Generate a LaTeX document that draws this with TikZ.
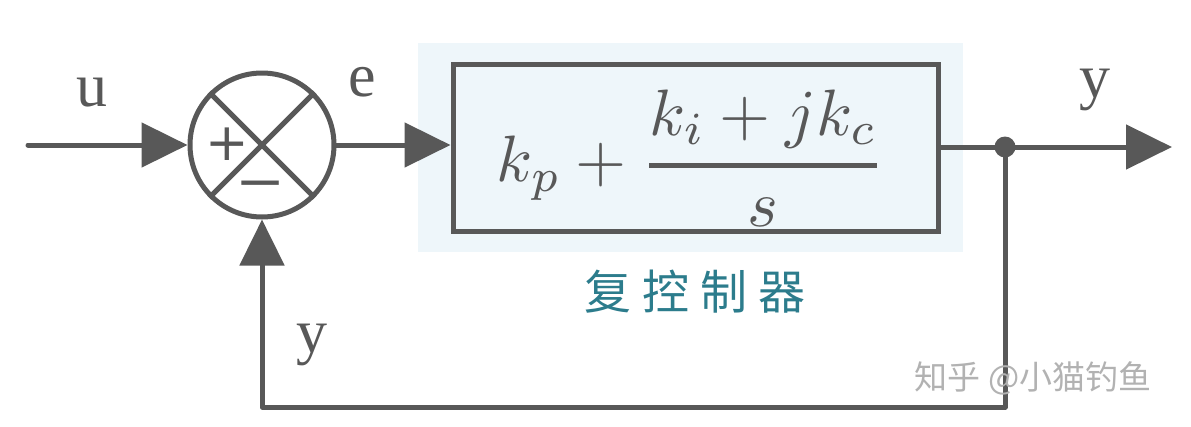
\documentclass[tikz,border=0pt]{standalone}
\usepackage{fontspec}
\usepackage{graphicx}
\usepackage{amsmath}
\usetikzlibrary{arrows.meta}
\newfontfamily\cjk{Noto Sans CJK SC}
\newfontfamily\serifl{Liberation Serif}
\newfontfamily\dejavu{DejaVu Sans}
\definecolor{linegray}{RGB}{88,88,88}
\definecolor{bgblue}{RGB}{238,246,250}
\definecolor{tealc}{RGB}{44,124,140}
\definecolor{wmgray}{RGB}{178,178,178}
\begin{document}
\begin{tikzpicture}[x=1pt,y=-1pt,
  wire/.style={draw=linegray,line width=5pt,line cap=round,line join=round},
  arr/.style={wire,-{Triangle[length=46pt,width=44pt]}},
  lbl/.style={text=linegray,font=\serifl\fontsize{62}{62}\selectfont,inner sep=0pt},
  sign/.style={text=linegray,font=\dejavu\fontsize{52}{52}\selectfont,inner sep=0pt}]
\useasboundingbox (0,0) rectangle (1191,426);
% background of controller
\node[fill=bgblue,minimum width=545pt,minimum height=209pt,inner sep=0pt,outer sep=0pt] (bg) at (690.5,147.5) {};
% controller box
\node[draw=linegray,line width=5pt,minimum width=485pt,minimum height=167pt,inner sep=0pt] (ctrl) at (695.5,147.5) {};
\node[text=linegray,inner sep=0pt] (eq) at (691,158) {\resizebox{388pt}{!}{$\displaystyle k_p+\genfrac{}{}{0.75pt}{0}{k_i+jk_c}{s}$}};
% summing junction
\node[circle,draw=linegray,line width=5pt,minimum size=144pt,inner sep=0pt] (sum) at (262,145) {};
\draw[draw=linegray,line width=5pt] (sum.45) -- (sum.225) (sum.135) -- (sum.315);
\node[sign] (plus) at (227,144) {+};
\node[sign] (minus) at (261,190) {\scalebox{1.15}[1]{−}};
% coordinates and junction
\coordinate (in) at (28,145);
\coordinate (out) at (1172,147);
\coordinate (fb) at (262,407);
\node[circle,fill=linegray,minimum size=21pt,inner sep=0pt] (j) at (1005,147) {};
% connectors
\draw[arr] (in) -- (sum.west);
\draw[arr] (sum.east) -- (ctrl.west |- sum.east);
\draw[wire] (ctrl.east |- j) -- (j);
\draw[arr] (j) -- (out);
\draw[arr] (j) |- (fb) -- (sum.south);
% labels
\node[lbl] (u) at (92,93) {u};
\node[lbl] (e) at (362,82) {e};
\node[lbl] (y1) at (1095,90) {y};
\node[lbl] (y2) at (312,345) {y};
\node[text=tealc,font=\cjk\fontsize{47}{47}\selectfont,inner sep=0pt] (name) at (695,292) {复\hspace{11pt}控\hspace{11pt}制\hspace{11pt}器};
\node[text=wmgray,font=\cjk\fontsize{33}{33}\selectfont,inner sep=0pt] (wm) at (1033,378) {知乎 @小猫钓鱼};
\end{tikzpicture}
\end{document}
